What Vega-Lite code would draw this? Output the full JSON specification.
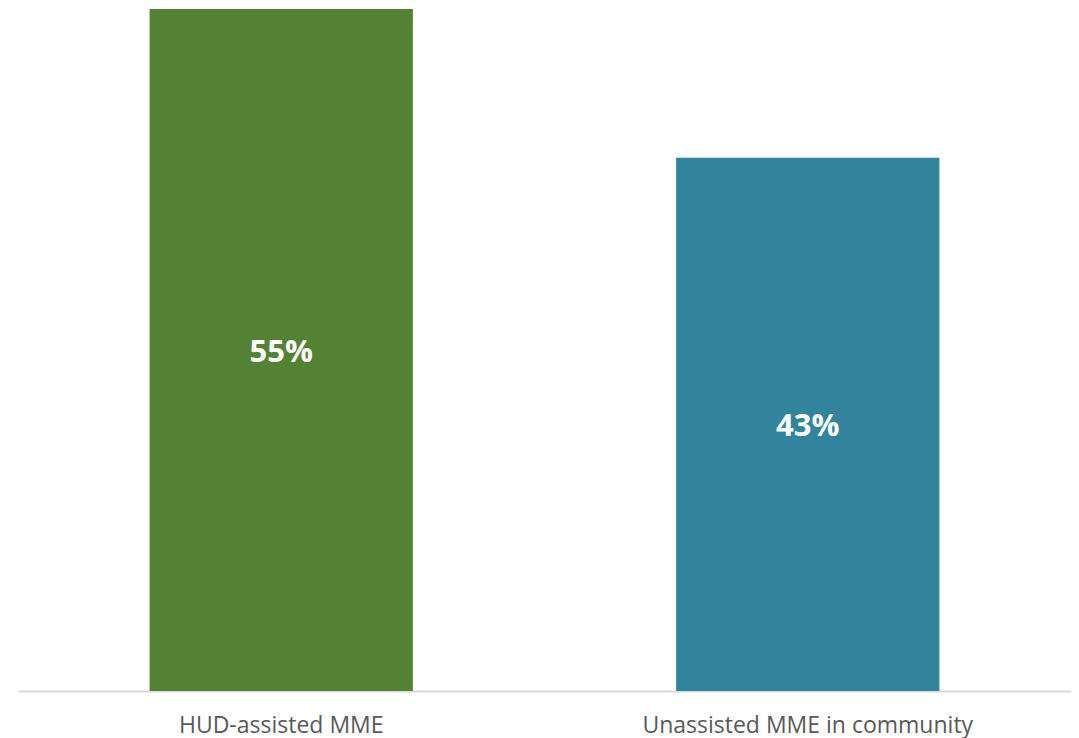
{
  "$schema": "https://vega.github.io/schema/vega-lite/v6.json",
  "width": 1053,
  "height": 691,
  "autosize": {"type": "none"},
  "padding": {"left": 18, "top": 0, "right": 8, "bottom": 47},
  "background": "white",
  "config": {"view": {"stroke": null}},
  "data": {"values": [
    {"group": "HUD-assisted MME", "value": 0.55},
    {"group": "Unassisted MME in community", "value": 0.43}
  ]},
  "transform": [{"calculate": "datum.value / 2", "as": "mid"}],
  "encoding": {
    "x": {
      "field": "group", "type": "nominal", "sort": null,
      "scale": {"paddingInner": 0.5, "paddingOuter": 0.25},
      "axis": {
        "title": null, "labelAngle": 0, "ticks": false,
        "domainColor": "#d9d9d9", "domainWidth": 2,
        "labelFont": "Open Sans", "labelFontSize": 23, "labelColor": "#595959",
        "labelPadding": 34, "labelBaseline": "middle", "labelLimit": 0
      }
    }
  },
  "layer": [
    {
      "mark": {"type": "bar"},
      "encoding": {
        "y": {"field": "value", "type": "quantitative", "scale": {"domain": [0, 0.5573], "nice": false}, "axis": null},
        "color": {"field": "group", "type": "nominal", "scale": {"range": ["#548235", "#31849b"]}, "legend": null}
      }
    },
    {
      "mark": {"type": "text", "font": "Open Sans", "fontSize": 31, "fontWeight": "bold", "color": "white", "baseline": "middle", "dy": 3},
      "encoding": {
        "y": {"field": "mid", "type": "quantitative", "scale": {"domain": [0, 0.5573], "nice": false}},
        "text": {"field": "value", "type": "quantitative", "format": ".0%"}
      }
    }
  ]
}
